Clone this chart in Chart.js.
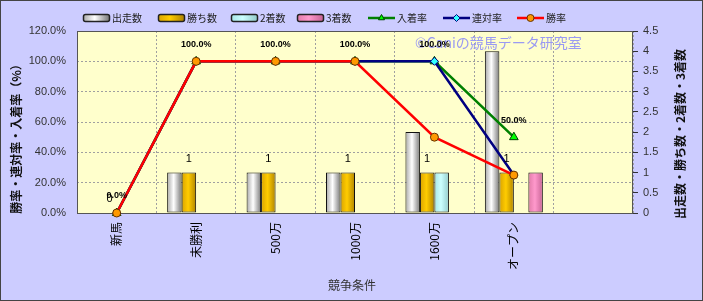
<!DOCTYPE html>
<html>
<head>
<meta charset="utf-8">
<script src="https://cdn.jsdelivr.net/npm/chart.js@4"></script>
<style>
body { margin: 0; background: #ccccff; }
#wrap { width: 703px; height: 301px; }
</style>
</head>
<body>
<div id="wrap"><canvas id="chart" width="703" height="301"></canvas></div>
<script>
"use strict";

// race classes, the last slot stays empty like in the original sheet
const categories = ["新馬", "未勝利", "500万", "1000万", "1600万", "オープン", ""];

// counts (right axis)
const starts  = [0, 1, 1, 1, 2, 4, null];
const wins    = [0, 1, 1, 1, 1, 1, null];
const seconds = [0, 0, 0, 0, 1, 0, null];
const thirds  = [0, 0, 0, 0, 0, 1, null];

// rates in % (left axis)
const placeRate    = [0, 100, 100, 100, 100, 50, null];
const quinellaRate = [0, 100, 100, 100, 100, 25, null];
const winRate      = [0, 100, 100, 100, 50, 25, null];

const legendNames = ["出走数", "勝ち数", "2着数", "3着数", "入着率", "連対率", "勝率"];
const leftTitle = "勝率・連対率・入着率（%）";
const rightTitle = "出走数・勝ち数・2着数・3着数";
const xTitle = "競争条件";
const watermark = "©Caniの競馬データ研究室";

const JP = "'Noto Sans CJK JP', sans-serif";
const LAT = "'Liberation Sans', sans-serif";

// horizontal "cylinder" shading for the bars
function shade(stops) {
    return c => {
        let el = c.chart.getDatasetMeta(c.datasetIndex).data[c.dataIndex];
        if (!el || el.width == undefined || isNaN(el.x)) return stops[1];
        let g = c.chart.ctx.createLinearGradient(el.x - el.width / 2, 0, el.x + el.width / 2, 0);
        g.addColorStop(0, stops[0]);
        g.addColorStop(0.45, stops[1]);
        g.addColorStop(1, stops[2]);
        return g;
    }
}

function barSet(i, data, stops) {
    return {
        type: "bar", label: legendNames[i], data: data, yAxisID: "y1", order: 3,
        shade: stops, backgroundColor: shade(stops),
        borderColor: "#111", borderWidth: 1, borderSkipped: false,
        categoryPercentage: 0.73, barPercentage: 1
    }
}

function lineSet(i, data, color, style, fill, edge, radius, order) {
    return {
        type: "line", label: legendNames[i], data: data, yAxisID: "y", order: order,
        borderColor: color, borderWidth: 2.5, tension: 0, clip: false,
        pointStyle: style, pointRadius: radius, pointBackgroundColor: fill,
        pointBorderColor: edge, pointBorderWidth: 1
    }
}

const datasets = [
    barSet(0, starts, ["#a8a8a8", "#ffffff", "#7a7a7a"]),
    barSet(1, wins, ["#d9a300", "#ffcc00", "#b08400"]),
    barSet(2, seconds, ["#a6e6e6", "#ccffff", "#94cccc"]),
    barSet(3, thirds, ["#e07aa8", "#ff99cc", "#c86496"]),
    lineSet(4, placeRate, "#008000", "triangle", "#00ff00", "#004000", 5, 2),
    lineSet(5, quinellaRate, "#000080", "rectRot", "#33ffff", "#000080", 4, 1),
    lineSet(6, winRate, "#ff0000", "circle", "#ff9900", "#663300", 4, 0)
];

function drawLegend(chart) {
    const ctx = chart.ctx, y = 18;
    const xs = [83, 158, 231, 297, 368, 443, 517];
    ctx.save();
    ctx.font = "10px " + JP;
    ctx.textBaseline = "middle";
    chart.data.datasets.forEach((ds, i) => {
        let x = xs[i];
        if (ds.type === "bar") {
            let g = ctx.createLinearGradient(x, 0, x + 26, 0);
            g.addColorStop(0, ds.shade[0]);
            g.addColorStop(0.45, ds.shade[1]);
            g.addColorStop(1, ds.shade[2]);
            ctx.fillStyle = g;
            ctx.strokeStyle = "#222";
            ctx.lineWidth = 1.5;
            ctx.beginPath();
            ctx.roundRect(x + 0.5, y - 3.5, 26, 7, 2);
            ctx.fill();
            ctx.stroke();
            ctx.fillStyle = "#222";
            ctx.fillText(ds.label, x + 29, y);
        } else {
            ctx.strokeStyle = ds.borderColor;
            ctx.lineWidth = 2.5;
            ctx.beginPath();
            ctx.moveTo(x, y);
            ctx.lineTo(x + 27, y);
            ctx.stroke();
            ctx.fillStyle = ds.pointBackgroundColor;
            ctx.strokeStyle = ds.pointBorderColor;
            ctx.lineWidth = 1;
            Chart.helpers.drawPoint(ctx, {pointStyle: ds.pointStyle, radius: 3.5, borderWidth: 1, rotation: 0}, x + 13.5, y);
            ctx.fillStyle = "#222";
            ctx.fillText(ds.label, x + 29, y);
        }
    });
    ctx.restore();
}

const decor = {
    id: "decor",
    beforeDraw(chart) {
        const {ctx, chartArea: a} = chart;
        ctx.save();
        ctx.fillStyle = "#ccccff";
        ctx.fillRect(0, 0, chart.width, chart.height);
        ctx.fillStyle = "#ffffcc";
        ctx.fillRect(a.left, a.top, a.right - a.left, a.bottom - a.top);
        ctx.restore();
    },
    beforeDatasetsDraw(chart) {
        const {ctx, chartArea: a} = chart;
        ctx.save();
        ctx.strokeStyle = "#555";
        ctx.lineWidth = 1;
        ctx.strokeRect(a.left + 0.5, a.top + 0.5, a.right - a.left - 1, a.bottom - a.top);
        // copyright stamp inside the plot
        ctx.font = "14px " + JP;
        ctx.fillStyle = "#9a9af2";
        ctx.textBaseline = "middle";
        ctx.fillText(watermark, 415, 43);
        ctx.restore();
    },
    afterDatasetsDraw(chart) {
        const ctx = chart.ctx;
        ctx.save();
        ctx.textAlign = "center";
        ctx.textBaseline = "middle";
        ctx.fillStyle = "#000";
        // rate labels on the 入着率 line
        ctx.font = "bold 9px " + LAT;
        chart.getDatasetMeta(4).data.forEach((pt, i) => {
            if (placeRate[i] == null) return;
            ctx.fillText(placeRate[i].toFixed(1) + "%", pt.x, pt.y - 17);
        });
        // count labels on the 勝ち数 bars
        ctx.font = "11px " + LAT;
        chart.getDatasetMeta(1).data.forEach((bar, i) => {
            if (wins[i] == null) return;
            ctx.fillText(String(wins[i]), bar.x, bar.y - 14);
        });
        ctx.restore();
    },
    afterDraw(chart) {
        const ctx = chart.ctx;
        drawLegend(chart);
        ctx.save();
        ctx.fillStyle = "#111";
        ctx.textAlign = "center";
        ctx.textBaseline = "middle";
        ctx.font = "bold 12px " + JP;
        ctx.translate(16, 136);
        ctx.rotate(-Math.PI / 2);
        ctx.fillText(leftTitle, 0, 0);
        ctx.setTransform(1, 0, 0, 1, 0, 0);
        ctx.translate(680, 134);
        ctx.rotate(-Math.PI / 2);
        ctx.fillText(rightTitle, 0, 0);
        ctx.setTransform(1, 0, 0, 1, 0, 0);
        ctx.font = "12px " + JP;
        ctx.fillStyle = "#333";
        ctx.fillText(xTitle, 352, 285);
        ctx.strokeStyle = "#444";
        ctx.lineWidth = 1;
        ctx.strokeRect(0.5, 0.5, chart.width - 1, chart.height - 1);
        ctx.restore();
    }
};

const chart = new Chart(document.getElementById("chart"), {
    type: "bar",
    data: {labels: categories, datasets: datasets},
    options: {
        responsive: false,
        animation: false,
        layout: {padding: {top: 31, left: 0, right: 0, bottom: 0}},
        plugins: {legend: {display: false}, tooltip: {enabled: false}},
        scales: {
            x: {
                offset: true,
                grid: {offset: true, color: "#a0a0a0", drawTicks: false},
                border: {display: false, dash: [2, 2]},
                ticks: {
                    autoSkip: false, minRotation: 90, maxRotation: 90, padding: 9,
                    color: "#000", font: {family: JP, size: 12}
                },
                afterFit: s => { s.height = 88 }
            },
            y: {
                position: "left", min: 0, max: 120,
                grid: {color: "#a0a0a0", drawTicks: false},
                border: {display: false, dash: [2, 2]},
                ticks: {
                    stepSize: 20, padding: 11, color: "#333",
                    font: {family: LAT, size: 11},
                    callback: v => v.toFixed(1) + "%"
                },
                afterFit: s => { s.width = 77 }
            },
            y1: {
                position: "right", min: 0, max: 4.5,
                grid: {drawOnChartArea: false, tickLength: 5, tickColor: "#333"},
                border: {display: false},
                ticks: {
                    stepSize: 0.5, padding: 5, color: "#333",
                    font: {family: LAT, size: 11},
                    callback: v => String(v)
                },
                afterFit: s => { s.width = 70 }
            }
        }
    },
    plugins: [decor]
});

// second pass so the bar gradients know where the bars are
chart.update("none");
</script>
</body>
</html>
